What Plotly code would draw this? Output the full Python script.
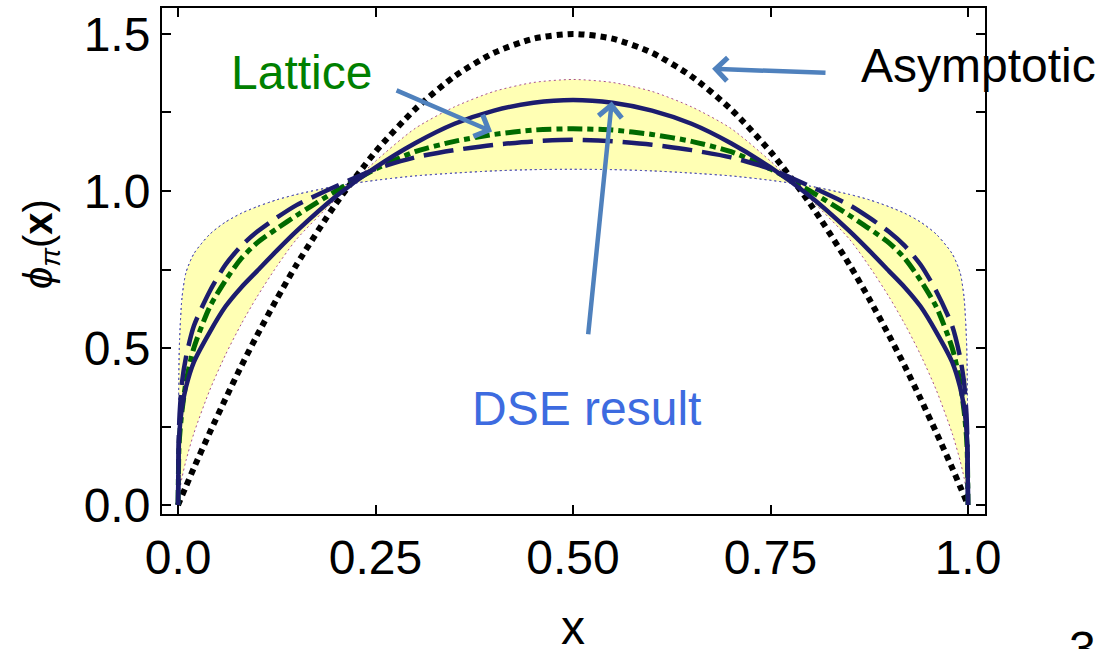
import plotly.graph_objects as go

# Momentum fraction grid
x = [0, 0.001, 0.002, 0.005, 0.01, 0.02, 0.04, 0.06, 0.08, 0.1, 0.125, 0.15, 0.2, 0.25,
     0.3, 0.35, 0.4, 0.45, 0.5, 0.55, 0.6, 0.65, 0.7, 0.75, 0.8, 0.85, 0.875, 0.9,
     0.92, 0.94, 0.96, 0.98, 0.99, 0.995, 0.998, 0.999, 1]

# Asymptotic distribution amplitude
asymptotic = [0, 0.006, 0.012, 0.03, 0.059, 0.118, 0.23, 0.338, 0.442, 0.54, 0.656, 0.765,
              0.96, 1.125, 1.26, 1.365, 1.44, 1.485, 1.5, 1.485, 1.44, 1.365, 1.26, 1.125,
              0.96, 0.765, 0.656, 0.54, 0.442, 0.338, 0.23, 0.118, 0.059, 0.03, 0.012, 0.006, 0]

# DSE result (solid)
dse = [0, 0.19, 0.24, 0.31, 0.375, 0.455, 0.55, 0.632, 0.693, 0.745, 0.81, 0.872, 0.983,
       1.075, 1.152, 1.214, 1.256, 1.281, 1.29, 1.281, 1.256, 1.214, 1.152, 1.075, 0.983,
       0.872, 0.81, 0.745, 0.693, 0.632, 0.55, 0.455, 0.375, 0.31, 0.24, 0.19, 0]

# DSE variant (long dashes)
dse_dashed = [0, 0.22, 0.29, 0.39, 0.47, 0.57, 0.68, 0.765, 0.825, 0.87, 0.915, 0.955, 1.015,
              1.07, 1.107, 1.13, 1.147, 1.158, 1.163, 1.158, 1.147, 1.13, 1.107, 1.07, 1.015,
              0.955, 0.915, 0.87, 0.825, 0.765, 0.68, 0.57, 0.47, 0.39, 0.29, 0.22, 0]

# Lattice-constrained curve (dash-dot)
lattice = [0, 0.17, 0.22, 0.3, 0.39, 0.5, 0.63, 0.715, 0.785, 0.835, 0.88, 0.922, 1.0,
           1.07, 1.125, 1.158, 1.18, 1.194, 1.198, 1.194, 1.18, 1.158, 1.125, 1.07, 1.0,
           0.922, 0.88, 0.835, 0.785, 0.715, 0.63, 0.5, 0.39, 0.3, 0.22, 0.17, 0]

# Lattice band edges
band_upper = [0, 0.03, 0.046, 0.087, 0.141, 0.228, 0.365, 0.478, 0.576, 0.663, 0.76, 0.846,
              0.975, 1.095, 1.199, 1.268, 1.317, 1.3455, 1.355, 1.3455, 1.317, 1.268, 1.199,
              1.095, 0.975, 0.846, 0.76, 0.663, 0.576, 0.478, 0.365, 0.228, 0.141, 0.087,
              0.046, 0.03, 0]
band_lower = [0, 0.42, 0.53, 0.66, 0.74, 0.80, 0.862, 0.901, 0.929, 0.95, 0.972, 0.989,
              1.0155, 1.034, 1.048, 1.057, 1.064, 1.068, 1.069, 1.068, 1.064, 1.057, 1.048,
              1.034, 1.0155, 0.989, 0.972, 0.95, 0.929, 0.901, 0.862, 0.80, 0.74, 0.66, 0.53,
              0.42, 0]

x_ticks = [0, 0.25, 0.5, 0.75, 1.0]
x_ticktext = ["0.0", "0.25", "0.50", "0.75", "1.0"]
y_ticks = [0, 0.25, 0.5, 0.75, 1.0, 1.25, 1.5]
y_ticktext = ["0.0", "", "0.5", "", "1.0", "", "1.5"]

FONT = "Liberation Sans, Arial, Helvetica, sans-serif"
NAVY = "#1c1c6e"
GREEN = "#006a00"
ARROW = "#4f81bd"
SMOOTH = 0.7

fig = go.Figure()

fig.add_trace(go.Scatter(x=x, y=band_lower, mode="lines", line=dict(color="#5a5ab4", width=1, dash="2px,3px",
                         shape="spline", smoothing=SMOOTH), hoverinfo="skip"))
fig.add_trace(go.Scatter(x=x, y=band_upper, mode="lines", line=dict(color="#a8508c", width=1, dash="2px,3px",
                         shape="spline", smoothing=SMOOTH),
                         fill="tonexty", fillcolor="rgb(255,255,180)", hoverinfo="skip"))
fig.add_trace(go.Scatter(x=x, y=band_lower, mode="lines", line=dict(color="#5a5ab4", width=1, dash="2px,3px",
                         shape="spline", smoothing=SMOOTH), hoverinfo="skip"))
fig.add_trace(go.Scatter(x=x, y=asymptotic, mode="lines",
                         line=dict(color="black", width=6, dash="6px,5px", shape="spline", smoothing=SMOOTH)))
fig.add_trace(go.Scatter(x=x, y=lattice, mode="lines",
                         line=dict(color=GREEN, width=5, dash="15px,5px,6px,5px", shape="spline", smoothing=SMOOTH)))
fig.add_trace(go.Scatter(x=x, y=dse_dashed, mode="lines",
                         line=dict(color=NAVY, width=4.5, dash="30px,10px", shape="spline", smoothing=SMOOTH)))
fig.add_trace(go.Scatter(x=x, y=dse, mode="lines",
                         line=dict(color=NAVY, width=4.5, shape="spline", smoothing=SMOOTH)))

axis_common = dict(
    showline=True, linecolor="black", linewidth=2, mirror="ticks",
    ticks="inside", ticklen=9, tickwidth=2, tickcolor="black",
    showgrid=False, zeroline=False,
    tickfont=dict(family=FONT, size=48, color="black"),
)

fig.update_xaxes(range=[-0.0203, 1.0215], tickmode="array", tickvals=x_ticks, ticktext=x_ticktext,
                 **axis_common)
fig.update_yaxes(range=[-0.0285, 1.5826], tickmode="array", tickvals=y_ticks, ticktext=y_ticktext,
                 **axis_common)

arrows = [
    dict(x=0.3975, y=1.189, ax=0.2747, ay=1.3225),
    dict(x=0.676, y=1.389, ax=0.8215, ay=1.376),
    dict(x=0.549, y=1.2845, ax=0.519, ay=0.539),
]
for a in arrows:
    fig.add_annotation(x=a["x"], y=a["y"], ax=a["ax"], ay=a["ay"], xref="x", yref="y",
                       axref="x", ayref="y", text="", showarrow=True, arrowhead=4,
                       arrowsize=1, arrowwidth=4.5, arrowcolor=ARROW)

fig.add_annotation(x=0.0646, y=1.3765, xref="x", yref="y", text="Lattice", showarrow=False,
                   xanchor="left", yanchor="middle", font=dict(family=FONT, size=48, color="#008000"))
fig.add_annotation(x=0.862, y=1.400, xref="x", yref="y", text="Asymptotic", showarrow=False,
                   xanchor="left", yanchor="middle", font=dict(family=FONT, size=48, color="black"))
fig.add_annotation(x=0.5165, y=0.3076, xref="x", yref="y", text="DSE result", showarrow=False,
                   xanchor="center", yanchor="middle", font=dict(family=FONT, size=48, color="#3d6be0"))

fig.add_annotation(x=-0.147, y=0.5335, xref="paper", yref="paper",
                   text="<i>\u03d5</i><sub><i>\u03c0</i></sub>(<b>x</b>)",
                   textangle=-90, showarrow=False, xanchor="center", yanchor="middle",
                   font=dict(family=FONT, size=40, color="black"))
fig.add_annotation(x=0.4994, y=-0.2244, xref="paper", yref="paper", text="x", showarrow=False,
                   xanchor="center", yanchor="middle", font=dict(family=FONT, size=48, color="black"))
fig.add_annotation(x=1.1179, y=-0.209, xref="paper", yref="paper", text="3", showarrow=False,
                   xanchor="center", yanchor="top", font=dict(family=FONT, size=48, color="black"))

fig.update_layout(
    width=1114, height=649,
    margin=dict(l=162, r=129, t=6, b=135),
    paper_bgcolor="white", plot_bgcolor="white",
    showlegend=False,
)

fig.write_html("out.html", config={"displayModeBar": False})
